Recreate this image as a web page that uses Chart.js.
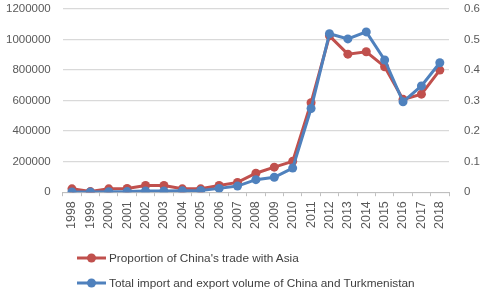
<!DOCTYPE html>
<html>
<head>
<meta charset="utf-8">
<script src="https://cdn.jsdelivr.net/npm/chart.js@4/dist/chart.umd.min.js"></script>
<style>
  html, body { margin: 0; padding: 0; background: #fff; }
  #wrap { position: relative; width: 486px; height: 290px; }
  #legend { position: absolute; left: 77px; top: 245px; font-family: 'Liberation Sans', sans-serif; font-size: 11.8px; color: #404040; }
  .item { display: flex; align-items: center; height: 25px; }
  .item canvas { margin-right: 3px; }
</style>
</head>
<body>
<div id="wrap">
  <canvas id="chart" width="486" height="290"></canvas>
  <div id="legend"></div>
</div>
<script>
const years = ['1998','1999','2000','2001','2002','2003','2004','2005','2006','2007','2008',
  '2009','2010','2011','2012','2013','2014','2015','2016','2017','2018'];

// share of China's trade with Asia (right axis)
const asiaShare = [0.011, 0.002, 0.011, 0.012, 0.022, 0.022, 0.011, 0.011, 0.022, 0.032, 0.062,
  0.082, 0.101, 0.293, 0.512, 0.452, 0.460, 0.411, 0.304, 0.321, 0.400];

// China-Turkmenistan import+export volume (left axis)
const tradeVolume = [2000, 1000, 3000, 4000, 8000, 8000, 9000, 11000, 25000, 40000, 82000,
  98000, 158000, 548000, 1038000, 1004000, 1050000, 866000, 592000, 696000, 848000];

const leftTicks = [0, 200000, 400000, 600000, 800000, 1000000, 1200000];
const rightTicks = [0, 0.1, 0.2, 0.3, 0.4, 0.5, 0.6];

const RED = '#c0504d';
const BLUE = '#4f81bd';
const tickFont = { family: "'Liberation Sans', sans-serif", size: 11.5 };

// tick padding also pads the axis ends, keep only half a label there
const trimEnds = axis => { axis.paddingTop = 9; axis.paddingBottom = 2; };

new Chart(document.getElementById('chart').getContext('2d'), {
  type: 'line',
  data: {
    labels: years,
    datasets: [{
      label: "Proportion of China's trade with Asia",
      data: asiaShare,
      yAxisID: 'y1',
      borderColor: RED,
      backgroundColor: RED,
      borderWidth: 3,
      pointRadius: 4.5,
      pointBorderWidth: 0,
      order: 2
    }, {
      label: 'Total import and export volume of China and Turkmenistan',
      data: tradeVolume,
      yAxisID: 'y',
      borderColor: BLUE,
      backgroundColor: BLUE,
      borderWidth: 3,
      pointRadius: 4.5,
      pointBorderWidth: 0,
      order: 1
    }]
  },
  options: {
    responsive: false,
    animation: false,
    layout: { padding: { left: -6, right: -9, top: 0, bottom: 56 } },
    plugins: { legend: { display: false }, tooltip: { enabled: false } },
    scales: {
      x: {
        offset: true,
        grid: { offset: true, drawOnChartArea: false, drawTicks: true, tickLength: 4, color: '#bfbfbf' },
        border: { color: '#bfbfbf' },
        ticks: { color: '#595959', font: { family: tickFont.family, size: 12.5 }, maxRotation: 90, minRotation: 90, padding: 5, autoSkip: false }
      },
      y: {
        position: 'left',
        min: 0, max: 1200000,
        afterBuildTicks: axis => { axis.ticks = leftTicks.map(v => ({ value: v })); },
        afterFit: trimEnds,
        grid: { color: '#d9d9d9', lineWidth: 1.3, drawTicks: false },
        border: { display: false },
        ticks: { color: '#595959', font: tickFont, padding: 12, callback: v => String(v) }
      },
      y1: {
        position: 'right',
        min: 0, max: 0.6,
        afterBuildTicks: axis => { axis.ticks = rightTicks.map(v => ({ value: v })); },
        afterFit: trimEnds,
        grid: { display: false, drawTicks: false },
        border: { display: false },
        ticks: { color: '#595959', font: tickFont, padding: 15, callback: v => String(v) }
      }
    }
  }
});

// legend: line with a dot in the middle, like the spreadsheet style
const legend = document.getElementById('legend');
[["Proportion of China's trade with Asia", RED],
 ['Total import and export volume of China and Turkmenistan', BLUE]].forEach(([text, color]) => {
  const item = document.createElement('div');
  item.className = 'item';
  const mk = document.createElement('canvas');
  mk.width = 29; mk.height = 12;
  const c = mk.getContext('2d');
  c.strokeStyle = color; c.lineWidth = 3;
  c.beginPath(); c.moveTo(0, 6); c.lineTo(29, 6); c.stroke();
  c.fillStyle = color;
  c.beginPath(); c.arc(14.5, 6, 4.5, 0, Math.PI * 2); c.fill();
  item.appendChild(mk);
  const span = document.createElement('span');
  span.textContent = text;
  item.appendChild(span);
  legend.appendChild(item);
});
</script>
</body>
</html>
